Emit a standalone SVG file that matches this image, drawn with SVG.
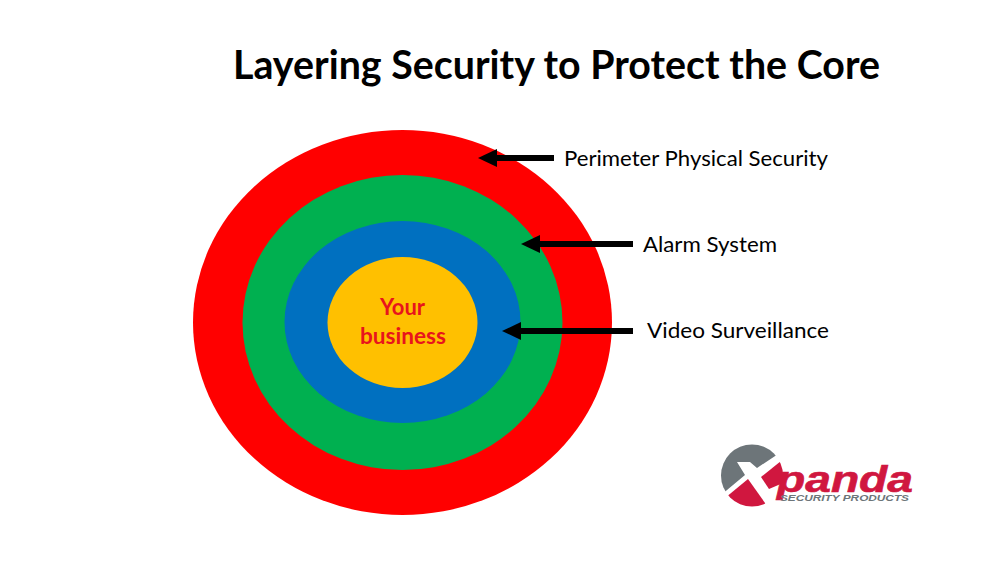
<svg xmlns="http://www.w3.org/2000/svg" width="994" height="574" viewBox="0 0 994 574">
<style>
text{font-family:Lato,"Open Sans","Liberation Sans",sans-serif;fill:#000}
.lab{font-size:22px}
.core{font-size:22px;font-weight:700;fill:#e8141c}
.conn{stroke:#000;stroke-width:6;fill:none;marker-end:url(#ah)}
.logo{font-family:"Liberation Sans",Arial,sans-serif;font-weight:700;font-style:italic}
</style>
<defs>
<marker id="ah" markerUnits="userSpaceOnUse" markerWidth="20" markerHeight="20" refX="9" refY="10" orient="auto"><path d="M0 1L19 10L0 19Z" fill="#000"/></marker>
<clipPath id="disc"><circle cx="752" cy="475.500" r="31"/></clipPath>
</defs>
<rect width="994" height="574" fill="#fff"/>
<text x="233" y="79" font-size="40" font-weight="700" textLength="647" lengthAdjust="spacingAndGlyphs">Layering Security to Protect the Core</text>
<g id="perimeter"><ellipse cx="402.500" cy="322.500" rx="209.500" ry="192.500" fill="#ff0000"/></g>
<g id="alarm"><ellipse cx="402.500" cy="322.500" rx="160" ry="147.500" fill="#00b050"/></g>
<g id="video"><ellipse cx="402.500" cy="322" rx="118" ry="101" fill="#0070c0"/></g>
<g id="business"><ellipse cx="402.500" cy="322.500" rx="75" ry="65.500" fill="#ffc000"/>
<text class="core" x="380" y="315" textLength="45" lengthAdjust="spacingAndGlyphs">Your</text><text class="core" x="360" y="344" textLength="86" lengthAdjust="spacingAndGlyphs">business</text></g>
<g id="connectors">
<path class="conn" d="M554 158H488"/>
<path class="conn" d="M633 244H531"/>
<path class="conn" d="M633 331H512"/>
</g>
<g id="labels">
<text class="lab" x="564" y="166" textLength="264" lengthAdjust="spacingAndGlyphs">Perimeter Physical Security</text>
<text class="lab" x="643" y="252" textLength="134" lengthAdjust="spacingAndGlyphs">Alarm System</text>
<text class="lab" x="647" y="338" textLength="182" lengthAdjust="spacingAndGlyphs">Video Surveillance</text>
</g>
<g id="logo">
<g clip-path="url(#disc)">
<path d="M790 446L757 468L750 462L737 462L745 475L715 500L700 400H790Z" fill="#6d7579"/>
<path d="M725 498L748 479L765 503L770 520H720Z" fill="#d0173f"/>
<path d="M781 461L761 477L769 489L790 480Z" fill="#d0173f"/>
</g>
<text class="logo" x="777" y="491.500" font-size="36" textLength="136" lengthAdjust="spacingAndGlyphs" style="fill:#d0173f;stroke:#d0173f;stroke-width:.6">panda</text>
<text class="logo" x="780" y="501" font-size="9" textLength="129" lengthAdjust="spacingAndGlyphs" style="fill:#6d7579">SECURITY PRODUCTS</text>
</g>
</svg>
